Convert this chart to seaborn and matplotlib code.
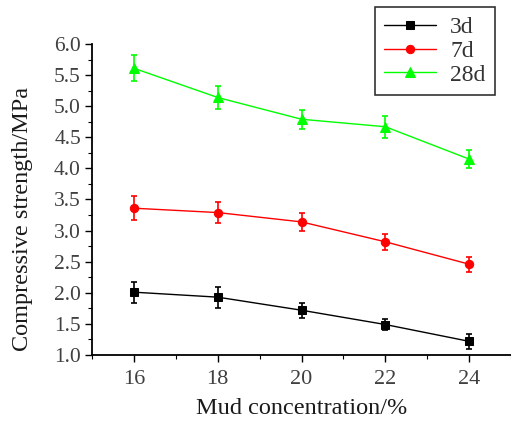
import matplotlib
matplotlib.use("Agg")
import matplotlib.pyplot as plt
import seaborn as sns
import numpy as np
import pandas as pd
from matplotlib.ticker import MultipleLocator

# ---- data ----
mud = [16, 18, 20, 22, 24]
s3d = [2.01, 1.93, 1.72, 1.49, 1.22]
e3d = [0.17, 0.17, 0.12, 0.09, 0.12]
s7d = [3.36, 3.29, 3.14, 2.82, 2.46]
e7d = [0.19, 0.17, 0.15, 0.13, 0.12]
s28d = [5.61, 5.14, 4.79, 4.67, 4.15]
e28d = [0.21, 0.18, 0.15, 0.18, 0.15]
labels = ["3d", "7d", "28d"]
xlabel = "Mud concentration/%"
ylabel = "Compressive strength/MPa"

sns.set_theme(style="white")
plt.rcParams['font.family'] = ['Liberation Serif', 'DejaVu Serif']

fig = plt.figure(figsize=(5.11, 4.23), dpi=100)
ax = fig.add_axes([92/511, 1-355/423, 1-92/511, (355-44)/423])

series = [(s3d, e3d, labels[0], "#000000", "s", 6),
          (s7d, e7d, labels[1], "#ff0000", "o", 6),
          (s28d, e28d, labels[2], "#00ff00", "^", 7)]

for vals, errs, lab, col, mk, ms in series:
    df = pd.DataFrame({"x": mud, "y": vals})
    ax.errorbar(mud, vals, yerr=errs, fmt='none', ecolor=col, elinewidth=1.2,
                capsize=2.3, capthick=1.2, zorder=2)
    sns.lineplot(data=df, x="x", y="y", ax=ax, color=col, marker=mk,
                 markersize=ms, markeredgecolor=col, linewidth=1.0,
                 label=lab, zorder=3)

ax.set_xlim(15, 25)
ax.set_ylim(1.0, 6.0)
ax.xaxis.set_major_locator(MultipleLocator(2))
ax.xaxis.set_minor_locator(MultipleLocator(1))
ax.yaxis.set_minor_locator(MultipleLocator(0.25))
yt = np.arange(1.0, 6.01, 0.5)
ax.set_yticks(yt)
ax.set_yticklabels([f"{v:.1f}" for v in yt])

for side in ["top", "right"]:
    ax.spines[side].set_visible(False)
for side in ["left", "bottom"]:
    ax.spines[side].set_color("black")
    ax.spines[side].set_linewidth(1.3)

ax.tick_params(axis='both', which='major', direction='out', length=5, width=1.0,
               color='black', left=True, bottom=True)
ax.tick_params(axis='both', which='minor', direction='out', length=3, width=0.8,
               color='black', left=True, bottom=True)
ax.tick_params(axis='y', labelsize=15.5, labelcolor='#404040', pad=3)
ax.tick_params(axis='x', labelsize=16, labelcolor='#404040', pad=6)

ax.set_xlabel(xlabel, fontsize=17.5, color='#1a1a1a', labelpad=6)
ax.set_ylabel(ylabel, fontsize=17.5, color='#1a1a1a')
ax.yaxis.set_label_coords(-0.142, 0.437)

leg = ax.legend(loc='upper right', bbox_to_anchor=(495/511, 1-7/423),
                bbox_transform=fig.transFigure, borderaxespad=0,
                fontsize=17, frameon=True, fancybox=False, handlelength=2.2,
                labelspacing=0.1, borderpad=0.4, handletextpad=0.6)
leg.get_frame().set_edgecolor('black')
leg.get_frame().set_linewidth(1.2)
for t in leg.get_texts():
    t.set_color('#333333')

fig.savefig("out.png", dpi=100)
